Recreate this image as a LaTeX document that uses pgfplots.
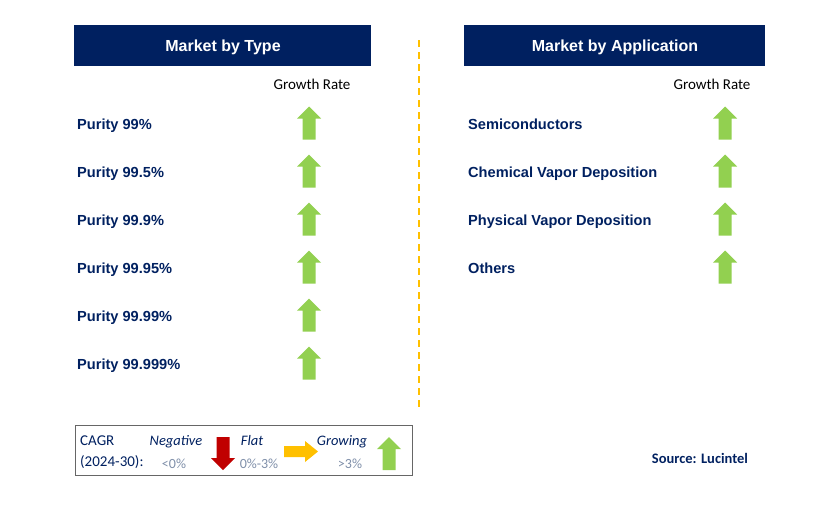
\documentclass[border=0pt]{standalone}
\usepackage{pgfplots}
\pgfplotsset{compat=1.18}
\usepackage{fontspec}
\setmainfont{Liberation Sans}
\newfontfamily\calib{Carlito}
\definecolor{navy}{HTML}{002060}
\definecolor{agreen}{HTML}{92D050}
\definecolor{ared}{HTML}{C00000}
\definecolor{aorange}{HTML}{FFC000}
\definecolor{lgtxt}{HTML}{7F8FA9}
\pgfdeclareplotmark{uparr}{%
 \pgfpathmoveto{\pgfpoint{0pt}{16.5pt}}%
 \pgfpathlineto{\pgfpoint{12pt}{4.5pt}}%
 \pgfpathlineto{\pgfpoint{6.5pt}{4.5pt}}%
 \pgfpathlineto{\pgfpoint{6.5pt}{-16.5pt}}%
 \pgfpathlineto{\pgfpoint{-6.5pt}{-16.5pt}}%
 \pgfpathlineto{\pgfpoint{-6.5pt}{4.5pt}}%
 \pgfpathlineto{\pgfpoint{-12pt}{4.5pt}}%
 \pgfpathclose\pgfusepathqfill}
\pgfdeclareplotmark{downarr}{%
 \pgfpathmoveto{\pgfpoint{0pt}{-16.5pt}}%
 \pgfpathlineto{\pgfpoint{12pt}{-4.5pt}}%
 \pgfpathlineto{\pgfpoint{6.5pt}{-4.5pt}}%
 \pgfpathlineto{\pgfpoint{6.5pt}{16.5pt}}%
 \pgfpathlineto{\pgfpoint{-6.5pt}{16.5pt}}%
 \pgfpathlineto{\pgfpoint{-6.5pt}{-4.5pt}}%
 \pgfpathlineto{\pgfpoint{-12pt}{-4.5pt}}%
 \pgfpathclose\pgfusepathqfill}
\pgfdeclareplotmark{rightarr}{%
 \pgfpathmoveto{\pgfpoint{17pt}{0pt}}%
 \pgfpathlineto{\pgfpoint{4pt}{10.5pt}}%
 \pgfpathlineto{\pgfpoint{4pt}{5.5pt}}%
 \pgfpathlineto{\pgfpoint{-17pt}{5.5pt}}%
 \pgfpathlineto{\pgfpoint{-17pt}{-5.5pt}}%
 \pgfpathlineto{\pgfpoint{4pt}{-5.5pt}}%
 \pgfpathlineto{\pgfpoint{4pt}{-10.5pt}}%
 \pgfpathclose\pgfusepathqfill}
\begin{document}
\begin{tikzpicture}
\begin{axis}[width=814pt,height=517pt,scale only axis,
  xmin=0,xmax=814,ymin=0,ymax=517,y dir=reverse,hide axis,clip=false]
\path (rel axis cs:0,0) rectangle (rel axis cs:1,1);
% header boxes
\addplot[fill=navy,draw=none] coordinates {(74,25)(371,25)(371,66)(74,66)} --cycle;
\addplot[fill=navy,draw=none] coordinates {(464,25)(765,25)(765,66)(464,66)} --cycle;
% divider
\addplot[aorange,line width=1.6pt,dash pattern=on 7pt off 5pt] coordinates {(419,40)(419,410)};
% legend box
\addplot[draw=gray!80!black,line width=0.8pt] coordinates {(75,425)(412,425)(412,475)(75,475)} --cycle;
% arrows
\addplot[only marks,mark=uparr,color=agreen,fill=agreen] table {
x y
309 123
309 171
309 219
309 267
309 315
309 363
725 123
725 171
725 219
725 267
389 453.5
};
\addplot[only marks,mark=downarr,color=ared,fill=ared] table {
x y
223 453.5
};
\addplot[only marks,mark=rightarr,color=aorange,fill=aorange] table {
x y
301 451.5
};
% texts
\node[anchor=base,text=white,font=\fontsize{16}{18}\selectfont\bfseries] at (axis cs:223,51) {Market by Type};
\node[anchor=base,text=white,font=\fontsize{16}{18}\selectfont\bfseries] at (axis cs:615,51) {Market by Application};
\node[anchor=base,font=\calib\fontsize{15}{17}\selectfont] at (axis cs:312,89) {Growth Rate};
\node[anchor=base,font=\calib\fontsize{15}{17}\selectfont] at (axis cs:712,89) {Growth Rate};
\begin{scope}[every node/.style={anchor=base west,inner sep=0pt,text=navy,font=\fontsize{14.6}{17}\selectfont\bfseries}]
\node at (axis cs:77,129) {Purity 99\%};
\node at (axis cs:77,177) {Purity 99.5\%};
\node at (axis cs:77,225) {Purity 99.9\%};
\node at (axis cs:77,273) {Purity 99.95\%};
\node at (axis cs:77,321) {Purity 99.99\%};
\node at (axis cs:77,369) {Purity 99.999\%};
\node at (axis cs:468,129) {Semiconductors};
\node at (axis cs:468,177) {Chemical Vapor Deposition};
\node at (axis cs:468,225) {Physical Vapor Deposition};
\node at (axis cs:468,273) {Others};
\end{scope}
\node[anchor=base west,inner sep=0pt,text=navy,font=\calib\fontsize{15}{16}\selectfont] at (axis cs:80,445) {CAGR};
\node[anchor=base west,inner sep=0pt,text=navy,font=\calib\fontsize{15}{16}\selectfont] at (axis cs:80,466) {(2024-30):};
\node[anchor=base,text=navy,font=\calib\fontsize{14.5}{16}\selectfont\itshape] at (axis cs:176,445) {Negative};
\node[anchor=base,text=navy,font=\calib\fontsize{14.5}{16}\selectfont\itshape] at (axis cs:252,445) {Flat};
\node[anchor=base,text=navy,font=\calib\fontsize{14.5}{16}\selectfont\itshape] at (axis cs:342,445) {Growing};
\node[anchor=base,text=lgtxt,font=\calib\fontsize{14}{15}\selectfont] at (axis cs:174,468) {<0\%};
\node[anchor=base,text=lgtxt,font=\calib\fontsize{14}{15}\selectfont] at (axis cs:259,468) {0\%-3\%};
\node[anchor=base,text=lgtxt,font=\calib\fontsize{14}{15}\selectfont] at (axis cs:350,468) {>3\%};
\node[anchor=base,text=navy,font=\calib\fontsize{14.5}{16}\selectfont\bfseries] at (axis cs:700,463) {Source: Lucintel};
\end{axis}
\end{tikzpicture}
\end{document}
